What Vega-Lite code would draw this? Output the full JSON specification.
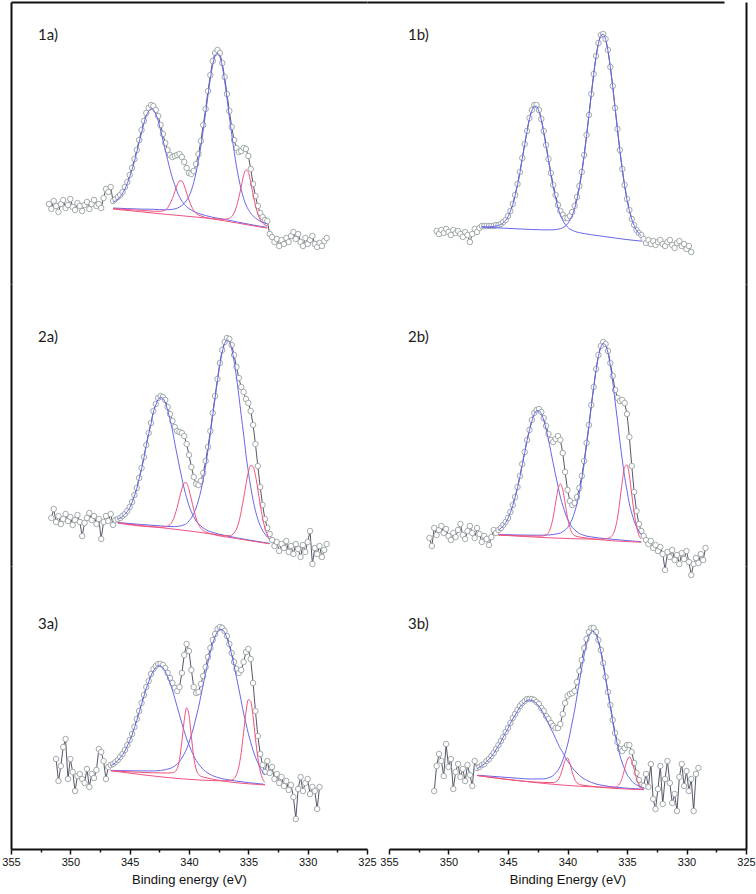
{
"$schema": "https://vega.github.io/schema/vega-lite/v6.json",
"background": "white",
"padding": {"left": 1, "top": 2, "right": 1, "bottom": 4},
"columns": 2,
"spacing": {"row": 0, "column": 0},
"bounds": "flush",
"align": "each",
"datasets": {
"d1a": [
{"E":351.8,"obs":80},{"E":351.6,"obs":75},{"E":351.4,"obs":83},{"E":351.2,"obs":78},{"E":351.0,"obs":72},{"E":350.8,"obs":80},{"E":350.6,"obs":84},{"E":350.4,"obs":76},{"E":350.2,"obs":79},{"E":350.0,"obs":85},{"E":349.8,"obs":77},{"E":349.6,"obs":74},{"E":349.4,"obs":81},{"E":349.2,"obs":78},{"E":349.0,"obs":73},{"E":348.8,"obs":79},{"E":348.6,"obs":82},{"E":348.4,"obs":75},{"E":348.2,"obs":80},{"E":348.0,"obs":84},{"E":347.8,"obs":78},{"E":347.6,"obs":80},{"E":347.4,"obs":76},{"E":347.2,"obs":86},{"E":347.0,"obs":95},{"E":346.8,"obs":92},{"E":346.6,"obs":97},
{"E":346.4,"obs":83,"b1":81.7,"r1":75.4,"b2":76,"r2":75},
{"E":346.2,"obs":85,"b1":83},
{"E":346.0,"obs":87,"b1":84.9},
{"E":345.8,"obs":89,"b1":87.3},
{"E":345.6,"obs":92,"b1":90.7},
{"E":345.4,"obs":97,"b1":95.1},
{"E":345.2,"obs":102,"b1":100.5},
{"E":345.0,"obs":109,"b1":107.3},
{"E":344.8,"obs":116,"b1":114.4},
{"E":344.6,"obs":125,"b1":122.6},
{"E":344.4,"obs":134,"b1":132.2},
{"E":344.2,"obs":144,"b1":141.8},
{"E":344.0,"obs":154,"b1":151.2,"r1":73.6,"b2":74.9},
{"E":343.8,"obs":163,"b1":160.7},
{"E":343.6,"obs":171,"b1":167.9},
{"E":343.4,"obs":176,"b1":172.9},
{"E":343.2,"obs":179,"b1":175.1},
{"E":343.0,"obs":178,"b1":174,"r1":72.8,"b2":74.7},
{"E":342.8,"obs":174,"b1":169.9},
{"E":342.6,"obs":168,"b1":163.4},
{"E":342.4,"obs":159,"b1":154,"r1":72.7},
{"E":342.2,"obs":150,"b1":144,"r1":73.1},
{"E":342.0,"obs":141,"b1":134.1,"r1":74.1,"b2":74.2},
{"E":341.8,"obs":134,"b1":124.3,"r1":76.3},
{"E":341.6,"obs":129,"b1":114.6,"r1":80.2,"b2":74.4},
{"E":341.4,"obs":127,"b1":106.1,"r1":85.4},
{"E":341.2,"obs":128,"b1":99.2,"r1":92.1,"b2":75.1},
{"E":341.0,"obs":129,"b1":92.3,"r1":98.9,"b2":75.8},
{"E":340.8,"obs":130,"b1":87.1,"r1":103.2,"b2":77},
{"E":340.6,"obs":127,"b1":83,"r1":103,"b2":78.5},
{"E":340.4,"obs":122,"b1":79.7,"r1":98.3,"b2":80.6},
{"E":340.2,"obs":116,"b1":77.4,"r1":91,"b2":83.7},
{"E":340.0,"obs":111,"b1":75.4,"r1":83.8,"b2":87.7},
{"E":339.8,"obs":110,"r1":78,"b2":93.6},
{"E":339.6,"obs":113,"b1":72.6,"r1":73.5,"b2":101.6},
{"E":339.4,"obs":120,"r1":70.7,"b2":111.7},
{"E":339.2,"obs":130,"b1":70.6,"r1":69.1,"b2":123.6},
{"E":339.0,"obs":143,"r1":68.1,"b2":138},
{"E":338.8,"obs":159,"b2":153.8},
{"E":338.6,"obs":175,"b1":68.5,"r1":66.5,"b2":170.9},
{"E":338.4,"obs":193,"b2":188.5},
{"E":338.2,"obs":209,"b2":205.3},
{"E":338.0,"obs":223,"b1":66.7,"r1":65.1,"b2":219,"r2":65.4},
{"E":337.8,"obs":231,"b2":227.9},
{"E":337.6,"obs":234,"b2":230.9},
{"E":337.4,"obs":231,"b2":227.3,"r2":64.8},
{"E":337.2,"obs":221,"b2":217.8},
{"E":337.0,"obs":207,"b1":64.6,"b2":203.4,"r2":64.7},
{"E":336.8,"obs":190,"b2":185.8,"r2":65},
{"E":336.6,"obs":173,"b2":167.4,"r2":65.7},
{"E":336.4,"obs":157,"b2":149.5,"r2":67.4},
{"E":336.2,"obs":144,"b2":132.9,"r2":71},
{"E":336.0,"obs":136,"b1":62.2,"r1":61.2,"b2":117.8,"r2":77.4},
{"E":335.8,"obs":132,"b2":105.2,"r2":86.4},
{"E":335.6,"obs":133,"b2":94.4,"r2":97.4},
{"E":335.4,"obs":136,"b2":85.7,"r2":108.5},
{"E":335.2,"obs":135,"b2":79.1,"r2":114.1},
{"E":335.0,"obs":128,"b1":59.9,"b2":74.5,"r2":111.6},
{"E":334.8,"obs":115,"b2":70.8,"r2":102.1},
{"E":334.6,"obs":100,"b2":68.1,"r2":89.6},
{"E":334.4,"obs":88,"b2":66,"r2":78.5},
{"E":334.2,"obs":78,"b2":64.2,"r2":70.1},
{"E":334.0,"obs":71,"b1":57.7,"r1":57,"b2":62.8,"r2":64.3},
{"E":333.8,"obs":67,"b2":61.7,"r2":61},
{"E":333.6,"obs":64,"b2":60.8,"r2":59.1},
{"E":333.4,"obs":63,"b1":56.6,"r1":56,"b2":60,"r2":58},
{"E":333.2,"obs":50},{"E":333.0,"obs":47},{"E":332.8,"obs":42},{"E":332.6,"obs":45},{"E":332.4,"obs":38},{"E":332.2,"obs":44},{"E":332.0,"obs":40},{"E":331.8,"obs":46},{"E":331.6,"obs":42},{"E":331.4,"obs":48},{"E":331.2,"obs":52},{"E":331.0,"obs":45},{"E":330.8,"obs":50},{"E":330.6,"obs":42},{"E":330.4,"obs":38},{"E":330.2,"obs":46},{"E":330.0,"obs":40},{"E":329.8,"obs":44},{"E":329.6,"obs":48},{"E":329.4,"obs":40},{"E":329.2,"obs":37},{"E":329.0,"obs":41},{"E":328.8,"obs":38},{"E":328.6,"obs":43},{"E":328.4,"obs":46}
],
"d1b": [
{"E":351.0,"obs":53},{"E":350.8,"obs":50},{"E":350.6,"obs":54},{"E":350.4,"obs":51},{"E":350.2,"obs":55},{"E":350.0,"obs":52},{"E":349.8,"obs":49},{"E":349.6,"obs":54},{"E":349.4,"obs":51},{"E":349.2,"obs":53},{"E":349.0,"obs":50},{"E":348.8,"obs":47},{"E":348.6,"obs":52},{"E":348.4,"obs":49},{"E":348.2,"obs":42},{"E":348.0,"obs":50},{"E":347.8,"obs":55},{"E":347.6,"obs":52},{"E":347.4,"obs":56},
{"E":347.2,"obs":58,"b1":57.4,"b2":56.9},
{"E":347.0,"obs":58},
{"E":346.8,"obs":58,"b1":57.2},
{"E":346.6,"obs":58},
{"E":346.4,"obs":58,"b1":57.3},
{"E":346.2,"obs":58},
{"E":346.0,"obs":59,"b1":58},
{"E":345.8,"obs":59,"b1":58.5},
{"E":345.6,"obs":60,"b1":59.5},
{"E":345.4,"obs":62,"b1":61.2},
{"E":345.2,"obs":64,"b1":63.7},
{"E":345.0,"obs":68,"b1":67.2,"b2":55.6},
{"E":344.8,"obs":73,"b1":72.7},
{"E":344.6,"obs":80,"b1":79.2},
{"E":344.4,"obs":89,"b1":88.7},
{"E":344.2,"obs":100,"b1":99},
{"E":344.0,"obs":112,"b1":111.1},
{"E":343.8,"obs":126,"b1":125.3},
{"E":343.6,"obs":140,"b1":138.9},
{"E":343.4,"obs":153,"b1":152.3},
{"E":343.2,"obs":166,"b1":164.7},
{"E":343.0,"obs":174,"b1":172.9,"b2":54.5},
{"E":342.8,"obs":179,"b1":177.8},
{"E":342.6,"obs":179,"b1":177.6},
{"E":342.4,"obs":174,"b1":172.5},
{"E":342.2,"obs":165,"b1":164},
{"E":342.0,"obs":153,"b1":151.2,"b2":54.2},
{"E":341.8,"obs":139,"b1":137.6},
{"E":341.6,"obs":125,"b1":123.6},
{"E":341.4,"obs":111,"b1":109.1,"b2":54.1},
{"E":341.2,"obs":99,"b1":96.8},
{"E":341.0,"obs":89,"b1":86.1,"b2":54.4},
{"E":340.8,"obs":79,"b1":76.3,"b2":54.8},
{"E":340.6,"obs":73,"b1":69.4,"b2":55.3},
{"E":340.4,"obs":69,"b1":63.6,"b2":56.3},
{"E":340.2,"obs":66,"b1":59.8,"b2":57.7},
{"E":340.0,"obs":66,"b1":56.9,"b2":60.1},
{"E":339.8,"obs":68,"b1":54.9,"b2":63.8},
{"E":339.6,"obs":72,"b1":53.6,"b2":68.7},
{"E":339.4,"obs":78,"b1":52.7,"b2":75.6},
{"E":339.2,"obs":87,"b1":51.9,"b2":84.9},
{"E":339.0,"obs":98,"b1":51.4,"b2":96.7},
{"E":338.8,"obs":112,"b2":111.2},
{"E":338.6,"obs":129,"b1":50.4,"b2":128},
{"E":338.4,"obs":149,"b2":147.6},
{"E":338.2,"obs":169,"b2":168.4},
{"E":338.0,"obs":190,"b1":49.3,"b2":189.4},
{"E":337.8,"obs":210,"b2":209.6},
{"E":337.6,"obs":228,"b2":227.2},
{"E":337.4,"obs":241,"b2":240.7},
{"E":337.2,"obs":249,"b2":248.5},
{"E":337.0,"obs":250,"b1":47.6,"b2":249.8},
{"E":336.8,"obs":245,"b2":244.6},
{"E":336.6,"obs":234,"b2":233.2},
{"E":336.4,"obs":217,"b2":216.8},
{"E":336.2,"obs":198,"b2":197},
{"E":336.0,"obs":176,"b1":46,"b2":175.8},
{"E":335.8,"obs":155,"b2":154},
{"E":335.6,"obs":134,"b2":133.2},
{"E":335.4,"obs":115,"b2":114.4},
{"E":335.2,"obs":99,"b2":98.1},
{"E":335.0,"obs":85,"b1":44.4,"b2":84.2},
{"E":334.8,"obs":74,"b2":73.4},
{"E":334.6,"obs":65,"b2":64.8},
{"E":334.4,"obs":59,"b2":58.5},
{"E":334.2,"obs":54,"b2":53.8},
{"E":334.0,"obs":51,"b2":50.5},
{"E":333.8,"obs":49,"b1":42.9,"b2":48.3},
{"E":333.6,"obs":45},{"E":333.4,"obs":41},{"E":333.2,"obs":44},{"E":333.0,"obs":40},{"E":332.8,"obs":43},{"E":332.6,"obs":39},{"E":332.4,"obs":42},{"E":332.2,"obs":44},{"E":332.0,"obs":40},{"E":331.8,"obs":38},{"E":331.6,"obs":42},{"E":331.4,"obs":44},{"E":331.2,"obs":39},{"E":331.0,"obs":36},{"E":330.8,"obs":41},{"E":330.6,"obs":43},{"E":330.4,"obs":38},{"E":330.2,"obs":40},{"E":330.0,"obs":35},{"E":329.8,"obs":38},{"E":329.6,"obs":32}
],
"d2a": [
{"E":351.6,"obs":48},{"E":351.4,"obs":57},{"E":351.2,"obs":44},{"E":351.0,"obs":50},{"E":350.8,"obs":42},{"E":350.6,"obs":47},{"E":350.4,"obs":52},{"E":350.2,"obs":45},{"E":350.0,"obs":49},{"E":349.8,"obs":41},{"E":349.6,"obs":46},{"E":349.4,"obs":51},{"E":349.2,"obs":44},{"E":349.0,"obs":30},{"E":348.8,"obs":43},{"E":348.6,"obs":48},{"E":348.4,"obs":53},{"E":348.2,"obs":46},{"E":348.0,"obs":50},{"E":347.8,"obs":42},{"E":347.6,"obs":47},{"E":347.4,"obs":27},{"E":347.2,"obs":44},{"E":347.0,"obs":50},{"E":346.8,"obs":45},{"E":346.6,"obs":52},{"E":346.4,"obs":41},{"E":346.2,"obs":46},
{"E":346.0,"obs":47,"b1":46.9,"r1":43,"b2":43.5,"r2":43},
{"E":345.8,"obs":48,"b1":47.9},
{"E":345.6,"obs":50,"b1":49.3},
{"E":345.4,"obs":52,"b1":51.7},
{"E":345.2,"obs":55,"b1":54.5},
{"E":345.0,"obs":59,"b1":58.3},
{"E":344.8,"obs":64,"b1":63.7},
{"E":344.6,"obs":71,"b1":70},
{"E":344.4,"obs":78,"b1":77.6},
{"E":344.2,"obs":88,"b1":87.2},
{"E":344.0,"obs":98,"b1":97.1,"b2":41.5},
{"E":343.8,"obs":109,"b1":108.1},
{"E":343.6,"obs":121,"b1":120.5},
{"E":343.4,"obs":133,"b1":132},
{"E":343.2,"obs":143,"b1":142.1},
{"E":343.0,"obs":155,"b1":153.8},
{"E":342.8,"obs":162,"b1":161},
{"E":342.6,"obs":168,"b1":166.3},
{"E":342.4,"obs":170,"b1":168.7,"r1":38.8,"b2":40.1},
{"E":342.2,"obs":169,"b1":167.6},
{"E":342.0,"obs":166,"b1":163.5,"r1":39.3,"b2":39.7},
{"E":341.8,"obs":159,"b1":155.7,"r1":39.9},
{"E":341.6,"obs":152,"b1":146.5,"r1":41.4,"b2":39.5},
{"E":341.4,"obs":145,"b1":136.2,"r1":44.6},
{"E":341.2,"obs":139,"b1":122.9,"r1":50.5,"b2":39.4},
{"E":341.0,"obs":135,"b1":110.9,"r1":58.4,"b2":39.6},
{"E":340.8,"obs":134,"b1":99,"r1":68.3,"b2":39.9},
{"E":340.6,"obs":133,"b1":87.7,"r1":77.1,"b2":40.4},
{"E":340.4,"obs":130,"b1":77.1,"r1":83.2,"b2":41.3},
{"E":340.2,"obs":122,"b1":68.3,"r1":82.9,"b2":42.4},
{"E":340.0,"obs":111,"b1":60.2,"r1":76.2,"b2":45.1},
{"E":339.8,"obs":99,"b1":54.2,"r1":66.8,"b2":48.1},
{"E":339.6,"obs":89,"b1":49.3,"r1":56.4,"b2":52.6},
{"E":339.4,"obs":82,"b1":45,"r1":48,"b2":58},
{"E":339.2,"obs":81,"b1":42.4,"r1":41.5,"b2":65.8},
{"E":339.0,"obs":85,"b1":40,"r1":37.7,"b2":75},
{"E":338.8,"obs":93,"b1":38,"r1":35.5,"b2":86.8},
{"E":338.6,"obs":105,"b1":36.5,"r1":34.1,"b2":100.1},
{"E":338.4,"obs":119,"b1":35.3,"b2":115.8},
{"E":338.2,"obs":135,"r1":32.4,"b2":132.1},
{"E":338.0,"obs":153,"b1":33.6,"b2":150.6},
{"E":337.8,"obs":170,"b2":167.9},
{"E":337.6,"obs":187,"b1":32.2,"b2":185.2},
{"E":337.4,"obs":203,"b2":201.1,"r2":30.9},
{"E":337.2,"obs":216,"b2":213.8},
{"E":337.0,"obs":224,"b1":30.6,"b2":222.3,"r2":30.2},
{"E":336.8,"obs":228,"b2":226,"r2":30.3},
{"E":336.6,"obs":227,"b2":224.3,"r2":30.3},
{"E":336.4,"obs":221,"b2":217,"r2":31},
{"E":336.2,"obs":211,"b2":204.6,"r2":33.1},
{"E":336.0,"obs":199,"b1":28.2,"r1":27.5,"b2":189,"r2":36.9},
{"E":335.8,"obs":188,"b2":170.6,"r2":43.9},
{"E":335.6,"obs":179,"b2":150.7,"r2":54.5},
{"E":335.4,"obs":174,"b2":132,"r2":67.5},
{"E":335.2,"obs":167,"b2":111.5,"r2":81.3},
{"E":335.0,"obs":163,"b1":26.1,"b2":94.2,"r2":93.8},
{"E":334.8,"obs":155,"b2":79,"r2":100.5},
{"E":334.6,"obs":141,"b2":65.8,"r2":99.4},
{"E":334.4,"obs":122,"b2":55.2,"r2":90.6},
{"E":334.2,"obs":100,"b2":46.8,"r2":76.8},
{"E":334.0,"obs":79,"b2":40.4,"r2":61.7},
{"E":333.8,"obs":61,"b2":35.5,"r2":48.2},
{"E":333.6,"obs":47,"b2":31.9,"r2":37.9},
{"E":333.4,"obs":38,"b2":28.9,"r2":31},
{"E":333.2,"obs":32,"b1":22.6,"r1":22.2,"b2":27.1,"r2":26.8},
{"E":333.0,"obs":26},{"E":332.8,"obs":20},{"E":332.6,"obs":24},{"E":332.4,"obs":15},{"E":332.2,"obs":22},{"E":332.0,"obs":18},{"E":331.8,"obs":25},{"E":331.6,"obs":14},{"E":331.4,"obs":20},{"E":331.2,"obs":12},{"E":331.0,"obs":22},{"E":330.8,"obs":17},{"E":330.6,"obs":9},{"E":330.4,"obs":21},{"E":330.2,"obs":14},{"E":330.0,"obs":24},{"E":329.8,"obs":35},{"E":329.6,"obs":2},{"E":329.4,"obs":18},{"E":329.2,"obs":12},{"E":329.0,"obs":20},{"E":328.8,"obs":9},{"E":328.6,"obs":16},{"E":328.4,"obs":22}
],
"d2b": [
{"E":351.6,"obs":28},{"E":351.4,"obs":20},{"E":351.2,"obs":38},{"E":351.0,"obs":31},{"E":350.8,"obs":36},{"E":350.6,"obs":40},{"E":350.4,"obs":33},{"E":350.2,"obs":37},{"E":350.0,"obs":30},{"E":349.8,"obs":26},{"E":349.6,"obs":33},{"E":349.4,"obs":29},{"E":349.2,"obs":36},{"E":349.0,"obs":42},{"E":348.8,"obs":31},{"E":348.6,"obs":27},{"E":348.4,"obs":35},{"E":348.2,"obs":40},{"E":348.0,"obs":33},{"E":347.8,"obs":28},{"E":347.6,"obs":38},{"E":347.4,"obs":32},{"E":347.2,"obs":24},{"E":347.0,"obs":30},{"E":346.8,"obs":27},{"E":346.6,"obs":21},{"E":346.4,"obs":29},{"E":346.2,"obs":36},{"E":346.0,"obs":33},
{"E":345.8,"obs":36,"b1":35.9,"r1":31,"b2":31.5,"r2":31},
{"E":345.6,"obs":38,"b1":37.7},
{"E":345.4,"obs":41,"b1":40.1},
{"E":345.2,"obs":44,"b1":43.3},
{"E":345.0,"obs":48,"b1":47.7},
{"E":344.8,"obs":54,"b1":53.4},
{"E":344.6,"obs":61,"b1":60.5},
{"E":344.4,"obs":69,"b1":68.8},
{"E":344.2,"obs":79,"b1":78.1},
{"E":344.0,"obs":90,"b1":89.1,"b2":31},
{"E":343.8,"obs":102,"b1":101},
{"E":343.6,"obs":114,"b1":113.3},
{"E":343.4,"obs":126,"b1":125.4},
{"E":343.2,"obs":136,"b1":135.5},
{"E":343.0,"obs":146,"b1":144.6},
{"E":342.8,"obs":153,"b1":151.5},
{"E":342.6,"obs":156,"b1":155.1,"b2":30.8},
{"E":342.4,"obs":157,"b1":155.3},
{"E":342.2,"obs":154,"b1":152.3,"r1":29.9},
{"E":342.0,"obs":148,"b1":145.9,"r1":30.3,"b2":30.9},
{"E":341.8,"obs":140,"b1":137,"r1":31.1},
{"E":341.6,"obs":132,"b1":126.2,"r1":33.4,"b2":31},
{"E":341.4,"obs":126,"b1":114.5,"r1":39},
{"E":341.2,"obs":124,"b1":102.4,"r1":49.1,"b2":31.5},
{"E":341.0,"obs":127,"b1":90.9,"r1":63,"b2":31.9},
{"E":340.8,"obs":130,"b1":79.9,"r1":76.5,"b2":32.3},
{"E":340.6,"obs":126,"b1":68.9,"r1":82.1,"b2":33},
{"E":340.4,"obs":113,"b1":60.7,"r1":76.4,"b2":34.4},
{"E":340.2,"obs":94,"b1":53.1,"r1":62.8,"b2":35.9},
{"E":340.0,"obs":76,"b1":47,"r1":48.7,"b2":38.3},
{"E":339.8,"obs":65,"b1":42.4,"r1":38.5,"b2":42.2},
{"E":339.6,"obs":61,"b1":38.6,"r1":32.8,"b2":47},
{"E":339.4,"obs":63,"b1":36.2,"r1":30.4,"b2":53.9},
{"E":339.2,"obs":69,"b1":34.1,"r1":29.5,"b2":62.6},
{"E":339.0,"obs":78,"b1":32.4,"b2":73.4},
{"E":338.8,"obs":90,"b1":31.4,"r1":28.6,"b2":86.8},
{"E":338.6,"obs":105,"b2":102.1},
{"E":338.4,"obs":123,"b1":29.9,"b2":120.9},
{"E":338.2,"obs":141,"b2":139.3},
{"E":338.0,"obs":161,"b1":29.1,"b2":159.6},
{"E":337.8,"obs":179,"b2":178},
{"E":337.6,"obs":197,"b2":195.5},
{"E":337.4,"obs":211,"b1":28.1,"b2":209.4},
{"E":337.2,"obs":220,"b2":218.9},
{"E":337.0,"obs":224,"b2":222.6,"r2":26.8},
{"E":336.8,"obs":222,"b2":220.6,"r2":27.4},
{"E":336.6,"obs":215,"b2":213.3,"r2":27.7},
{"E":336.4,"obs":203,"b2":200.3,"r2":28.6},
{"E":336.2,"obs":190,"b2":184.1,"r2":31.2},
{"E":336.0,"obs":176,"b1":26.5,"b2":164.7,"r2":37},
{"E":335.8,"obs":168,"b2":145.3,"r2":48},
{"E":335.6,"obs":165,"b2":124.9,"r2":65.2},
{"E":335.4,"obs":166,"b2":106.4,"r2":84.2},
{"E":335.2,"obs":163,"b2":89.4,"r2":98.6},
{"E":335.0,"obs":152,"b2":75.5,"r2":101.2},
{"E":334.8,"obs":129,"b2":62.2,"r2":90.6},
{"E":334.6,"obs":100,"b2":52.8,"r2":71.6},
{"E":334.4,"obs":74,"b2":45,"r2":53.1},
{"E":334.2,"obs":55,"b2":39.1,"r2":39.3},
{"E":334.0,"obs":42,"b2":34.8,"r2":30.8},
{"E":333.8,"obs":35,"b1":24.2,"r1":23.8,"b2":31.4,"r2":26.8},
{"E":333.6,"obs":30},{"E":333.4,"obs":26},{"E":333.2,"obs":22},{"E":333.0,"obs":25},{"E":332.8,"obs":18},{"E":332.6,"obs":21},{"E":332.4,"obs":15},{"E":332.2,"obs":19},{"E":332.0,"obs":12},{"E":331.8,"obs":-4},{"E":331.6,"obs":14},{"E":331.4,"obs":9},{"E":331.2,"obs":16},{"E":331.0,"obs":6},{"E":330.8,"obs":11},{"E":330.6,"obs":2},{"E":330.4,"obs":13},{"E":330.2,"obs":7},{"E":330.0,"obs":15},{"E":329.8,"obs":4},{"E":329.6,"obs":-9},{"E":329.4,"obs":2},{"E":329.2,"obs":8},{"E":329.0,"obs":3},{"E":328.8,"obs":12},{"E":328.6,"obs":6},{"E":328.4,"obs":18}
],
"d3a": [
{"E":351.2,"obs":90},{"E":351.0,"obs":68},{"E":350.8,"obs":83},{"E":350.6,"obs":102},{"E":350.4,"obs":110},{"E":350.2,"obs":70},{"E":350.0,"obs":90},{"E":349.8,"obs":77},{"E":349.6,"obs":58},{"E":349.4,"obs":73},{"E":349.2,"obs":75},{"E":349.0,"obs":70},{"E":348.8,"obs":66},{"E":348.6,"obs":80},{"E":348.4,"obs":62},{"E":348.2,"obs":75},{"E":348.0,"obs":71},{"E":347.8,"obs":79},{"E":347.6,"obs":100},{"E":347.4,"obs":97},{"E":347.2,"obs":88},{"E":347.0,"obs":70},{"E":346.8,"obs":82},
{"E":346.6,"obs":84,"b1":83.3,"r1":78.3,"b2":78.6,"r2":78.3},
{"E":346.4,"obs":85,"b1":84.6},
{"E":346.2,"obs":87,"b1":86.2},
{"E":346.0,"obs":89,"b1":88.5},
{"E":345.8,"obs":92,"b1":91.2},
{"E":345.6,"obs":95,"b1":94.2},
{"E":345.4,"obs":99,"b1":98.1},
{"E":345.2,"obs":104,"b1":103.1},
{"E":345.0,"obs":109,"b1":108.5},
{"E":344.8,"obs":115,"b1":114},
{"E":344.6,"obs":122,"b1":121.2},
{"E":344.4,"obs":130,"b1":128.7},
{"E":344.2,"obs":138,"b1":136.6},
{"E":344.0,"obs":146,"b1":144.7,"b2":78.1},
{"E":343.8,"obs":154,"b1":152.8},
{"E":343.6,"obs":162,"b1":160.4},
{"E":343.4,"obs":168,"b1":167},
{"E":343.2,"obs":175,"b1":173.2},
{"E":343.0,"obs":180,"b1":178,"b2":78.1},
{"E":342.8,"obs":183,"b1":181.6},
{"E":342.6,"obs":185,"b1":183.2},
{"E":342.4,"obs":185,"b1":183.1,"b2":78.5},
{"E":342.2,"obs":184,"b1":181.3},
{"E":342.0,"obs":181,"b1":177.5,"b2":79.3},
{"E":341.8,"obs":176,"b1":172.5,"r1":76,"b2":79.9},
{"E":341.6,"obs":171,"b1":165.9,"b2":80.5},
{"E":341.4,"obs":166,"b1":158.9,"r1":76.3,"b2":81.6},
{"E":341.2,"obs":161,"b1":150.9,"r1":77.1,"b2":83},
{"E":341.0,"obs":158,"b1":142.4,"r1":80.2,"b2":84.9},
{"E":340.8,"obs":162,"b1":133.9,"r1":89.5,"b2":87.5},
{"E":340.6,"obs":176,"b1":125.6,"r1":107.5,"b2":91},
{"E":340.4,"obs":194,"b1":117.8,"r1":128.7,"b2":95.2},
{"E":340.2,"obs":205,"b1":110.1,"r1":141.2,"b2":100.2},
{"E":340.0,"obs":198,"b1":104.2,"r1":133.9,"b2":106.4},
{"E":339.8,"obs":179,"b1":98.4,"r1":112.3,"b2":114.1},
{"E":339.6,"obs":162,"b1":93,"r1":92,"b2":122.1},
{"E":339.4,"obs":156,"b1":88.7,"r1":79.8,"b2":131.9},
{"E":339.2,"obs":157,"b1":85.3,"r1":74.6,"b2":141.5},
{"E":339.0,"obs":165,"b1":82.2,"r1":72.8,"b2":153.2},
{"E":338.8,"obs":173,"b1":79.5,"r1":71.9,"b2":164.7},
{"E":338.6,"obs":182,"b1":77.5,"b2":175.7},
{"E":338.4,"obs":192,"b1":75.8,"b2":186.8},
{"E":338.2,"obs":201,"b1":74.5,"b2":196.8},
{"E":338.0,"obs":209,"b1":73.3,"b2":205.5},
{"E":337.8,"obs":215,"b2":212.3},
{"E":337.6,"obs":220,"b1":71.6,"b2":217.5},
{"E":337.4,"obs":222,"b2":219.7},
{"E":337.2,"obs":221,"b2":219.3},
{"E":337.0,"obs":218,"b1":69.8,"b2":216.5},
{"E":336.8,"obs":213,"b2":210.7,"r2":68.2},
{"E":336.6,"obs":205,"b2":203.3,"r2":68.8},
{"E":336.4,"obs":196,"b2":194,"r2":69},
{"E":336.2,"obs":187,"b2":183.3,"r2":70.4},
{"E":336.0,"obs":180,"b1":67.9,"b2":171.7,"r2":74.2},
{"E":335.8,"obs":176,"b2":160.1,"r2":82.2},
{"E":335.6,"obs":179,"b2":148.1,"r2":96.4},
{"E":335.4,"obs":187,"b2":135.8,"r2":116.5},
{"E":335.2,"obs":197,"b2":125.7,"r2":136.7},
{"E":335.0,"obs":200,"b1":66.4,"b2":115.3,"r2":149.4},
{"E":334.8,"obs":190,"b2":106.8,"r2":147.7},
{"E":334.6,"obs":166,"b2":98.5,"r2":132.2},
{"E":334.4,"obs":138,"b2":91.8,"r2":110.6},
{"E":334.2,"obs":113,"b2":86.2,"r2":91.3},
{"E":334.0,"obs":95,"b2":81.4,"r2":77.9},
{"E":333.8,"obs":84,"b2":77.4,"r2":70.4},
{"E":333.6,"obs":77,"b1":64.6,"r1":64.1,"b2":74.2,"r2":66.7},
{"E":333.4,"obs":88},{"E":333.2,"obs":76},{"E":333.0,"obs":82},{"E":332.8,"obs":70},{"E":332.6,"obs":75},{"E":332.4,"obs":66},{"E":332.2,"obs":72},{"E":332.0,"obs":63},{"E":331.8,"obs":68},{"E":331.6,"obs":59},{"E":331.4,"obs":64},{"E":331.2,"obs":52},{"E":331.0,"obs":30},{"E":330.8,"obs":60},{"E":330.6,"obs":72},{"E":330.4,"obs":58},{"E":330.2,"obs":66},{"E":330.0,"obs":70},{"E":329.8,"obs":55},{"E":329.6,"obs":62},{"E":329.4,"obs":58},{"E":329.2,"obs":40},{"E":329.0,"obs":62}
],
"d3b": [
{"E":351.2,"obs":58},{"E":351.0,"obs":83},{"E":350.8,"obs":95},{"E":350.6,"obs":88},{"E":350.4,"obs":73},{"E":350.2,"obs":105},{"E":350.0,"obs":82},{"E":349.8,"obs":90},{"E":349.6,"obs":60},{"E":349.4,"obs":77},{"E":349.2,"obs":85},{"E":349.0,"obs":72},{"E":348.8,"obs":80},{"E":348.6,"obs":68},{"E":348.4,"obs":84},{"E":348.2,"obs":74},{"E":348.0,"obs":63},{"E":347.8,"obs":88},
{"E":347.6,"obs":81,"b1":80.3,"r1":73.5,"b2":73.8,"r2":73.5},
{"E":347.4,"obs":82,"b1":81.7},
{"E":347.2,"obs":84,"b1":83.3},
{"E":347.0,"obs":85,"b1":84.9},
{"E":346.8,"obs":88,"b1":87.2},
{"E":346.6,"obs":90,"b1":89.8},
{"E":346.4,"obs":93,"b1":92.4},
{"E":346.2,"obs":96,"b1":95.6},
{"E":346.0,"obs":100,"b1":99.4},
{"E":345.8,"obs":104,"b1":103.3},
{"E":345.6,"obs":108,"b1":107.3},
{"E":345.4,"obs":112,"b1":111.8},
{"E":345.2,"obs":117,"b1":116.5},
{"E":345.0,"obs":121,"b1":120.7,"b2":71.5},
{"E":344.8,"obs":126,"b1":125.6},
{"E":344.6,"obs":131,"b1":130.1},
{"E":344.4,"obs":135,"b1":133.8},
{"E":344.2,"obs":139,"b1":138.2},
{"E":344.0,"obs":143,"b1":142},
{"E":343.8,"obs":146,"b1":144.6},
{"E":343.6,"obs":148,"b1":146.9},
{"E":343.4,"obs":150,"b1":148.4},
{"E":343.2,"obs":150,"b1":148.9},
{"E":343.0,"obs":150,"b1":148.6,"b2":70},
{"E":342.8,"obs":149,"b1":147.5},
{"E":342.6,"obs":147,"b1":145.4},
{"E":342.4,"obs":145,"b1":142.8},
{"E":342.2,"obs":141,"b1":139.3},
{"E":342.0,"obs":138,"b1":135,"b2":70.1},
{"E":341.8,"obs":133,"b1":130.3},
{"E":341.6,"obs":130,"b1":125.7,"b2":71.2},
{"E":341.4,"obs":126,"b1":120.5,"b2":72},
{"E":341.2,"obs":123,"b1":115.8,"r1":66.4,"b2":73.5},
{"E":341.0,"obs":121,"b1":110.5,"r1":67.1,"b2":75.9},
{"E":340.8,"obs":121,"b1":105.3,"r1":68.9,"b2":78.8},
{"E":340.6,"obs":125,"b1":100.4,"r1":73.5,"b2":82.9},
{"E":340.4,"obs":135,"b1":96.6,"r1":81,"b2":88.8},
{"E":340.2,"obs":146,"b1":91.9,"r1":88.7,"b2":95.7},
{"E":340.0,"obs":153,"b1":87.9,"r1":90.9,"b2":104},
{"E":339.8,"obs":155,"b1":84.7,"r1":85.4,"b2":114.8},
{"E":339.6,"obs":156,"b1":81.3,"r1":76.7,"b2":126.9},
{"E":339.4,"obs":158,"b1":78.4,"r1":69.9,"b2":138.8},
{"E":339.2,"obs":167,"b1":76,"r1":66.2,"b2":153.3},
{"E":339.0,"obs":178,"b1":73.7,"r1":64.7,"b2":167.5},
{"E":338.8,"obs":189,"b1":71.8,"b2":181.1},
{"E":338.6,"obs":201,"b1":70,"r1":63.6,"b2":194.3},
{"E":338.4,"obs":210,"b1":69,"b2":204.4},
{"E":338.2,"obs":217,"b1":67.7,"b2":212.5},
{"E":338.0,"obs":221,"b1":66.7,"b2":217.1},
{"E":337.8,"obs":221,"b2":217.6},
{"E":337.6,"obs":217,"b1":65,"b2":214.2},
{"E":337.4,"obs":209,"b2":206.9},
{"E":337.2,"obs":199,"b2":197.3},
{"E":337.0,"obs":186,"b1":63.5,"b2":184},
{"E":336.8,"obs":172,"b2":170.2},
{"E":336.6,"obs":157,"b2":156.1},
{"E":336.4,"obs":144,"b2":142.1},
{"E":336.2,"obs":129,"b2":127.3},
{"E":336.0,"obs":116,"b1":61.8,"b2":113.9,"r2":61.7},
{"E":335.8,"obs":107,"b2":104.3,"r2":62.7},
{"E":335.6,"obs":100,"b2":93.9,"r2":65.6},
{"E":335.4,"obs":98,"b2":86.1,"r2":71.3},
{"E":335.2,"obs":101,"b2":80,"r2":80.1},
{"E":335.0,"obs":104,"b1":60.8,"b2":74.6,"r2":88.5},
{"E":334.8,"obs":104,"b2":71.1,"r2":92.1},
{"E":334.6,"obs":97,"b2":68,"r2":88.2},
{"E":334.4,"obs":86,"b2":65.7,"r2":79.6},
{"E":334.2,"obs":76,"b2":64.2,"r2":70.6},
{"E":334.0,"obs":69,"b2":63,"r2":64.6},
{"E":333.8,"obs":64,"b2":62,"r2":61.4},
{"E":333.6,"obs":63,"b1":59.8,"r1":59.3,"b2":61.5,"r2":60.1},
{"E":333.4,"obs":75},{"E":333.2,"obs":62},{"E":333.0,"obs":85},{"E":332.8,"obs":50},{"E":332.6,"obs":40},{"E":332.4,"obs":60},{"E":332.2,"obs":83},{"E":332.0,"obs":45},{"E":331.8,"obs":70},{"E":331.6,"obs":88},{"E":331.4,"obs":66},{"E":331.2,"obs":46},{"E":331.0,"obs":55},{"E":330.8,"obs":38},{"E":330.6,"obs":72},{"E":330.4,"obs":85},{"E":330.2,"obs":63},{"E":330.0,"obs":78},{"E":329.8,"obs":58},{"E":329.6,"obs":70},{"E":329.4,"obs":38},{"E":329.2,"obs":75},{"E":329.0,"obs":81}
]
},
"concat": [
{
"width": 356, "height": 282,
"data": {"name": "d1a"},
"title": {"text": "1a)", "dx": 27, "dy": 45},
"transform": [{"fold": ["obs", "b1", "b2", "r1", "r2"], "as": ["series", "val"]}],
"encoding": {
"x": {"field": "E", "type": "quantitative", "scale": {"domain": [355, 325], "nice": false, "zero": false}, "axis": null},
"y": {"field": "val", "type": "quantitative", "title": null, "scale": {"domain": [0, 282], "nice": false, "zero": false}, "axis": {"orient": "left", "grid": true, "values": [282]}}
},
"layer": [
{"transform": [{"filter": "datum.series === 'obs'"}], "mark": {"type": "line", "color": "#2b2b44", "strokeWidth": 0.8}, "encoding": {}},
{"transform": [{"filter": "datum.series === 'obs'"}], "mark": {"type": "point", "shape": "circle", "filled": true, "size": 30, "fill": "#ffffff", "stroke": "#98a2a2", "strokeWidth": 0.9, "opacity": 1, "fillOpacity": 1}, "encoding": {}},
{"transform": [{"filter": "datum.series !== 'obs'"}], "mark": {"type": "line", "interpolate": "monotone", "strokeWidth": 1, "invalid": "filter"}, "encoding": {"color": {"field": "series", "type": "nominal", "scale": {"domain": ["b1", "b2", "r1", "r2"], "range": ["#6767ec", "#6767ec", "#f0527e", "#f0527e"]}, "legend": null}}}
]
},
{
"width": 379, "height": 282,
"data": {"name": "d1b"},
"title": {"text": "1b)", "dx": 41, "dy": 45},
"transform": [{"fold": ["obs", "b1", "b2", "r1", "r2"], "as": ["series", "val"]}],
"encoding": {
"x": {"field": "E", "type": "quantitative", "scale": {"domain": [355, 325], "range": [22, 379], "nice": false, "zero": false}, "axis": null},
"y": {"field": "val", "type": "quantitative", "title": null, "scale": {"domain": [0, 282], "nice": false, "zero": false}, "axis": {"orient": "right", "grid": true, "values": [282]}}
},
"layer": [
{"transform": [{"filter": "datum.series === 'obs'"}], "mark": {"type": "line", "color": "#2b2b44", "strokeWidth": 0.8}, "encoding": {}},
{"transform": [{"filter": "datum.series === 'obs'"}], "mark": {"type": "point", "shape": "circle", "filled": true, "size": 30, "fill": "#ffffff", "stroke": "#98a2a2", "strokeWidth": 0.9, "opacity": 1, "fillOpacity": 1}, "encoding": {}},
{"transform": [{"filter": "datum.series !== 'obs'"}], "mark": {"type": "line", "interpolate": "monotone", "strokeWidth": 1, "invalid": "filter"}, "encoding": {"color": {"field": "series", "type": "nominal", "scale": {"domain": ["b1", "b2", "r1", "r2"], "range": ["#6767ec", "#6767ec", "#f0527e", "#f0527e"]}, "legend": null}}}
]
},
{
"width": 356, "height": 282,
"data": {"name": "d2a"},
"title": {"text": "2a)", "dx": 27, "dy": 65},
"transform": [{"fold": ["obs", "b1", "b2", "r1", "r2"], "as": ["series", "val"]}],
"encoding": {
"x": {"field": "E", "type": "quantitative", "scale": {"domain": [355, 325], "nice": false, "zero": false}, "axis": null},
"y": {"field": "val", "type": "quantitative", "title": null, "scale": {"domain": [0, 282], "nice": false, "zero": false}, "axis": {"orient": "left", "grid": false}}
},
"layer": [
{"transform": [{"filter": "datum.series === 'obs'"}], "mark": {"type": "line", "color": "#2b2b44", "strokeWidth": 0.8}, "encoding": {}},
{"transform": [{"filter": "datum.series === 'obs'"}], "mark": {"type": "point", "shape": "circle", "filled": true, "size": 30, "fill": "#ffffff", "stroke": "#98a2a2", "strokeWidth": 0.9, "opacity": 1, "fillOpacity": 1}, "encoding": {}},
{"transform": [{"filter": "datum.series !== 'obs'"}], "mark": {"type": "line", "interpolate": "monotone", "strokeWidth": 1, "invalid": "filter"}, "encoding": {"color": {"field": "series", "type": "nominal", "scale": {"domain": ["b1", "b2", "r1", "r2"], "range": ["#6767ec", "#6767ec", "#f0527e", "#f0527e"]}, "legend": null}}}
]
},
{
"width": 379, "height": 282,
"data": {"name": "d2b"},
"title": {"text": "2b)", "dx": 41, "dy": 65},
"transform": [{"fold": ["obs", "b1", "b2", "r1", "r2"], "as": ["series", "val"]}],
"encoding": {
"x": {"field": "E", "type": "quantitative", "scale": {"domain": [355, 325], "range": [22, 379], "nice": false, "zero": false}, "axis": null},
"y": {"field": "val", "type": "quantitative", "title": null, "scale": {"domain": [0, 282], "nice": false, "zero": false}, "axis": {"orient": "right", "grid": false}}
},
"layer": [
{"transform": [{"filter": "datum.series === 'obs'"}], "mark": {"type": "line", "color": "#2b2b44", "strokeWidth": 0.8}, "encoding": {}},
{"transform": [{"filter": "datum.series === 'obs'"}], "mark": {"type": "point", "shape": "circle", "filled": true, "size": 30, "fill": "#ffffff", "stroke": "#98a2a2", "strokeWidth": 0.9, "opacity": 1, "fillOpacity": 1}, "encoding": {}},
{"transform": [{"filter": "datum.series !== 'obs'"}], "mark": {"type": "line", "interpolate": "monotone", "strokeWidth": 1, "invalid": "filter"}, "encoding": {"color": {"field": "series", "type": "nominal", "scale": {"domain": ["b1", "b2", "r1", "r2"], "range": ["#6767ec", "#6767ec", "#f0527e", "#f0527e"]}, "legend": null}}}
]
},
{
"width": 356, "height": 283,
"data": {"name": "d3a"},
"title": {"text": "3a)", "dx": 27, "dy": 70},
"transform": [{"fold": ["obs", "b1", "b2", "r1", "r2"], "as": ["series", "val"]}],
"encoding": {
"x": {"field": "E", "type": "quantitative", "scale": {"domain": [355, 325], "nice": false, "zero": false},
"axis": {"orient": "bottom", "values": [355, 352.5, 350, 347.5, 345, 342.5, 340, 337.5, 335, 332.5, 330, 327.5, 325], "labelExpr": "datum.value % 5 === 0 ? format(datum.value, 'd') : ''", "labelOverlap": false, "labelFlush": false, "tickSize": {"condition": {"test": "datum.value % 5 !== 0", "value": 3}, "value": 5}, "title": "Binding energy (eV)"}},
"y": {"field": "val", "type": "quantitative", "title": null, "scale": {"domain": [0, 283], "nice": false, "zero": false}, "axis": {"orient": "left", "grid": false}}
},
"layer": [
{"transform": [{"filter": "datum.series === 'obs'"}], "mark": {"type": "line", "color": "#2b2b44", "strokeWidth": 0.8}, "encoding": {}},
{"transform": [{"filter": "datum.series === 'obs'"}], "mark": {"type": "point", "shape": "circle", "filled": true, "size": 30, "fill": "#ffffff", "stroke": "#98a2a2", "strokeWidth": 0.9, "opacity": 1, "fillOpacity": 1}, "encoding": {}},
{"transform": [{"filter": "datum.series !== 'obs'"}], "mark": {"type": "line", "interpolate": "monotone", "strokeWidth": 1, "invalid": "filter"}, "encoding": {"color": {"field": "series", "type": "nominal", "scale": {"domain": ["b1", "b2", "r1", "r2"], "range": ["#6767ec", "#6767ec", "#f0527e", "#f0527e"]}, "legend": null}}}
]
},
{
"width": 379, "height": 283,
"data": {"name": "d3b"},
"title": {"text": "3b)", "dx": 41, "dy": 70},
"transform": [{"fold": ["obs", "b1", "b2", "r1", "r2"], "as": ["series", "val"]}],
"encoding": {
"x": {"field": "E", "type": "quantitative", "scale": {"domain": [355, 325], "range": [22, 379], "nice": false, "zero": false},
"axis": {"orient": "bottom", "values": [355, 352.5, 350, 347.5, 345, 342.5, 340, 337.5, 335, 332.5, 330, 327.5, 325], "labelExpr": "datum.value % 5 === 0 ? format(datum.value, 'd') : ''", "labelOverlap": false, "labelFlush": false, "tickSize": {"condition": {"test": "datum.value % 5 !== 0", "value": 3}, "value": 5}, "title": "Binding Energy (eV)"}},
"y": {"field": "val", "type": "quantitative", "title": null, "scale": {"domain": [0, 283], "nice": false, "zero": false}, "axis": {"orient": "right", "grid": false}}
},
"layer": [
{"transform": [{"filter": "datum.series === 'obs'"}], "mark": {"type": "line", "color": "#2b2b44", "strokeWidth": 0.8}, "encoding": {}},
{"transform": [{"filter": "datum.series === 'obs'"}], "mark": {"type": "point", "shape": "circle", "filled": true, "size": 30, "fill": "#ffffff", "stroke": "#98a2a2", "strokeWidth": 0.9, "opacity": 1, "fillOpacity": 1}, "encoding": {}},
{"transform": [{"filter": "datum.series !== 'obs'"}], "mark": {"type": "line", "interpolate": "monotone", "strokeWidth": 1, "invalid": "filter"}, "encoding": {"color": {"field": "series", "type": "nominal", "scale": {"domain": ["b1", "b2", "r1", "r2"], "range": ["#6767ec", "#6767ec", "#f0527e", "#f0527e"]}, "legend": null}}}
]
}
],
"config": {
"view": {"stroke": null},
"font": "Liberation Sans",
"title": {"anchor": "start", "font": "Lato", "fontSize": 15, "fontWeight": "normal", "color": "#1c1c1c", "offset": 0, "baseline": "top", "frame": "group"},
"axisY": {"domain": true, "domainColor": "#111111", "domainWidth": 2, "ticks": false, "labels": false, "gridColor": "#111111", "gridWidth": 2, "gridOpacity": 1},
"axisX": {"domainColor": "#111111", "domainWidth": 2, "tickColor": "#111111", "tickWidth": 1.5, "labelFont": "Liberation Sans", "labelFontSize": 11, "labelColor": "#111111", "labelPadding": 2, "grid": false, "titleFont": "Liberation Sans", "titleFontSize": 13, "titleFontWeight": "normal", "titleColor": "#111111", "titlePadding": 6}
}
}
